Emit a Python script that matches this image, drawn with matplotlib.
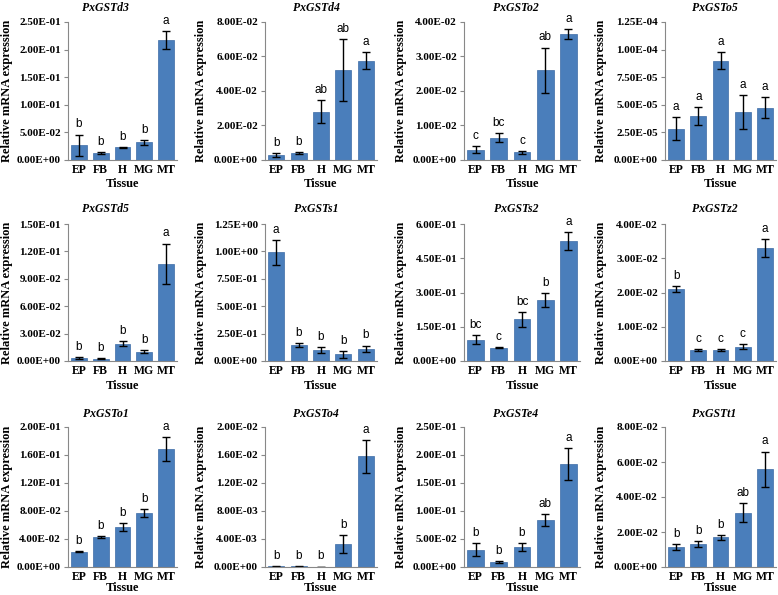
# Relative mRNA expression of 12 PxGST genes across tissues
import numpy as np
import matplotlib
matplotlib.use("Agg")
import matplotlib.pyplot as plt

tissues = ["EP", "FB", "H", "MG", "MT"]

# row 1
d3_mean = [0.027, 0.012, 0.023, 0.032, 0.217]
d3_err = [0.019, 0.002, 0.001, 0.004, 0.016]
d3_sig = ["b", "b", "b", "b", "a"]

d4_mean = [0.0030, 0.0042, 0.028, 0.052, 0.0576]
d4_err = [0.0010, 0.0005, 0.0066, 0.018, 0.0048]
d4_sig = ["b", "b", "ab", "ab", "a"]

o2_mean = [0.0030, 0.0065, 0.0022, 0.026, 0.0365]
o2_err = [0.0011, 0.0013, 0.0004, 0.0066, 0.0014]
o2_sig = ["c", "bc", "c", "ab", "a"]

o5_mean = [2.85e-5, 4.0e-5, 9.0e-5, 4.35e-5, 4.75e-5]
o5_err = [1.0e-5, 0.82e-5, 0.8e-5, 1.5e-5, 0.95e-5]
o5_sig = ["a", "a", "a", "a", "a"]

# row 2
d5_mean = [0.0035, 0.0025, 0.019, 0.010, 0.1065]
d5_err = [0.0008, 0.0005, 0.003, 0.0015, 0.022]
d5_sig = ["b", "b", "b", "b", "a"]

s1_mean = [0.99, 0.145, 0.10, 0.06, 0.11]
s1_err = [0.115, 0.02, 0.03, 0.03, 0.03]
s1_sig = ["a", "b", "b", "b", "b"]

s2_mean = [0.093, 0.058, 0.183, 0.267, 0.525]
s2_err = [0.02, 0.003, 0.032, 0.032, 0.04]
s2_sig = ["bc", "c", "bc", "b", "a"]

z2_mean = [0.0210, 0.0033, 0.0033, 0.0042, 0.0330]
z2_err = [0.0008, 0.0003, 0.0003, 0.0008, 0.0026]
z2_sig = ["b", "c", "c", "c", "a"]

# row 3
o1_mean = [0.022, 0.043, 0.057, 0.077, 0.169]
o1_err = [0.001, 0.0015, 0.006, 0.006, 0.017]
o1_sig = ["b", "b", "b", "b", "a"]

o4_mean = [0.0001, 0.0001, 0.00005, 0.0033, 0.0158]
o4_err = [0.00003, 0.00003, 0.00002, 0.0013, 0.0023]
o4_sig = ["b", "b", "b", "b", "a"]

e4_mean = [0.031, 0.009, 0.035, 0.084, 0.184]
e4_err = [0.012, 0.001, 0.007, 0.011, 0.028]
e4_sig = ["b", "b", "b", "ab", "a"]

t1_mean = [0.0115, 0.0133, 0.0170, 0.031, 0.056]
t1_err = [0.0017, 0.0017, 0.0013, 0.0055, 0.010]
t1_sig = ["b", "b", "b", "ab", "a"]

genes = ["PxGSTd3", "PxGSTd4", "PxGSTo2", "PxGSTo5",
         "PxGSTd5", "PxGSTs1", "PxGSTs2", "PxGSTz2",
         "PxGSTo1", "PxGSTo4", "PxGSTe4", "PxGSTt1"]
means = [d3_mean, d4_mean, o2_mean, o5_mean, d5_mean, s1_mean, s2_mean, z2_mean,
         o1_mean, o4_mean, e4_mean, t1_mean]
errs = [d3_err, d4_err, o2_err, o5_err, d5_err, s1_err, s2_err, z2_err,
        o1_err, o4_err, e4_err, t1_err]
sigs = [d3_sig, d4_sig, o2_sig, o5_sig, d5_sig, s1_sig, s2_sig, z2_sig,
        o1_sig, o4_sig, e4_sig, t1_sig]
# y axis max and tick step
ymax = [0.25, 0.08, 0.04, 1.25e-4, 0.15, 1.25, 0.6, 0.04, 0.2, 0.02, 0.25, 0.08]
ystep = [0.05, 0.02, 0.01, 2.5e-5, 0.03, 0.25, 0.15, 0.01, 0.04, 0.004, 0.05, 0.02]

W, H = 778, 595
serif = "Liberation Serif"
sans = "Liberation Sans"

# layout in pixels
col_left = [68, 265, 464, 665]
col_right = [177, 377, 580, 776]
row_top = [22, 224, 427]
row_bot = [160, 361, 567]
title_y = [8, 209, 414]
tissue_y = [184, 386, 588]
ylab_x = [7, 201, 401, 601]
title_dx = [-17, -5, -6, -6]

fig = plt.figure(figsize=(W / 100, H / 100), dpi=100)

for i in range(12):
    r, c = divmod(i, 4)
    l, rt = col_left[c], col_right[c]
    t, b = row_top[r], row_bot[r]
    ax = fig.add_axes([l / W, 1 - b / H, (rt - l) / W, (b - t) / H])
    x = np.arange(len(tissues))
    ax.bar(x, means[i], width=0.72, color="#4a7ebb", edgecolor="#3d6ca6", linewidth=0.5)
    ax.errorbar(x, means[i], yerr=errs[i], fmt="none", ecolor="black",
                elinewidth=1, capsize=3, capthick=1)
    for xi, m, e, s in zip(x, means[i], errs[i], sigs[i]):
        ax.annotate(s, (xi, m + e), xytext=(0, 3), textcoords="offset points",
                    ha="center", va="bottom", fontsize=8.5, family=sans)
    ax.set_xlim(-0.5, 4.5)
    ax.set_ylim(0, ymax[i])
    ticks = np.arange(0, ymax[i] + ystep[i] / 2, ystep[i])
    ax.set_yticks(ticks)
    ax.set_yticklabels(["{:.2E}".format(v) for v in ticks],
                       fontsize=8, fontweight="bold", family=serif)
    ax.set_xticks(x)
    ax.set_xticklabels(tissues, fontsize=8.5, fontweight="bold", family=serif)
    ax.tick_params(axis="x", length=0, pad=3)
    ax.tick_params(axis="y", length=3, width=0.8, color="#888888", pad=2)
    for s in ["top", "right"]:
        ax.spines[s].set_visible(False)
    for s in ["left", "bottom"]:
        ax.spines[s].set_color("#888888")
        ax.spines[s].set_linewidth(0.8)

    cx = (l + rt) / 2
    fig.text((cx + title_dx[c]) / W, 1 - title_y[r] / H, genes[i], ha="center", va="center",
             fontsize=8.5, fontweight="bold", fontstyle="italic", family=serif)
    fig.text(cx / W, 1 - tissue_y[r] / H, "Tissue", ha="center", va="center",
             fontsize=9, fontweight="bold", family=serif)
    fig.text(ylab_x[c] / W, 1 - (t + b) / 2 / H, "Relative mRNA expression",
             rotation=90, ha="center", va="center",
             fontsize=9, fontweight="bold", family=serif)

fig.savefig("out.png", dpi=100)
